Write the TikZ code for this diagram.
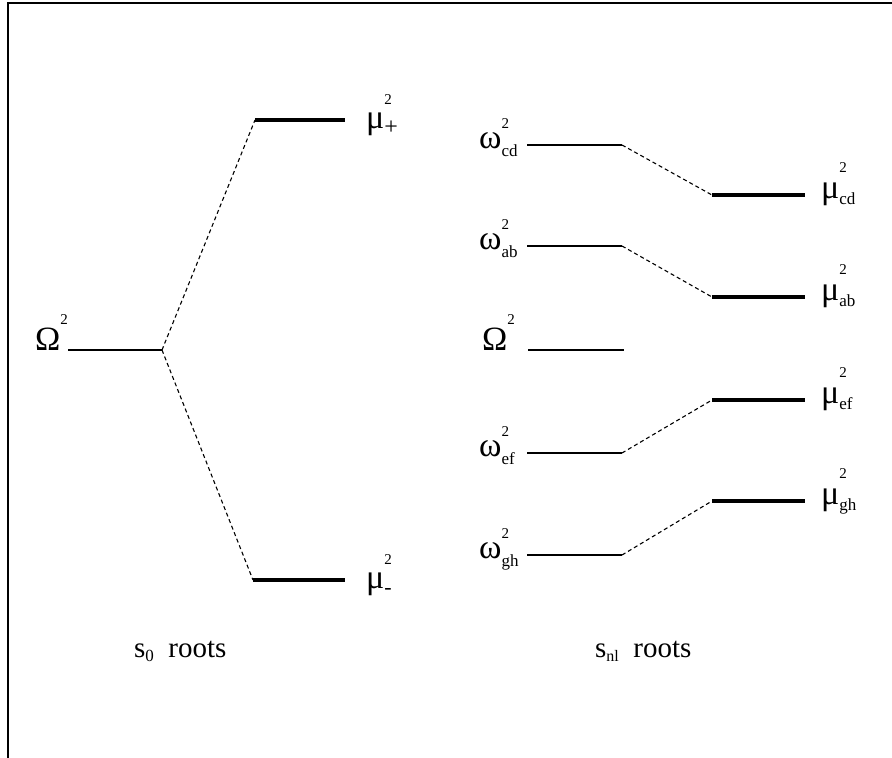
\documentclass[tikz,border=0pt]{standalone}
\usepackage{fontspec}
\setmainfont{Liberation Serif}
\usetikzlibrary{calc}
% level label: base symbol, stacked superscript and subscript
\newcommand\lvl[5][18pt]{#2\rlap{\raisebox{#1}{\fontsize{15}{15}\selectfont #3}}\raisebox{#5}{\fontsize{17}{17}\selectfont #4}}
\tikzset{
  thinlevel/.style={line width=1.4pt},
  thicklevel/.style={line width=4.5pt},
  link/.style={line width=1.1pt, dash pattern=on 4pt off 3pt},
  lab/.style={inner sep=0pt, anchor=base west, font=\fontsize{34}{36}\selectfont},
  caption/.style={inner sep=0pt, anchor=base west, font=\fontsize{29}{32}\selectfont},
  frameline/.style={line width=1.8pt}
}
\begin{document}
\begin{tikzpicture}[x=1pt,y=-1pt]
\useasboundingbox (0,0) rectangle (892,758);
% frame (top and left edges)
\coordinate (ftl) at (8,3);
\coordinate (ftr) at (892,3);
\coordinate (fbl) at (8,758);
\draw[frameline] (ftr) -- (ftl) -- (fbl);

% ---- s0 roots ----
\node[lab] (OmL) at (35,350) {\lvl[26pt]{Ω}{2}{}{0pt}};
\coordinate (oL1) at (68,350);
\coordinate (oL2) at (162,350);
\draw[thinlevel] (oL1) -- (oL2);
\coordinate (mp1) at (255,120);
\coordinate (mp2) at (345,120);
\coordinate (mm1) at (253,580);
\coordinate (mm2) at (345,580);
\draw[thicklevel] (mp1) -- (mp2);
\draw[thicklevel] (mm1) -- (mm2);
\draw[link] (oL2) -- (mp1);
\draw[link] (oL2) -- (mm1);
\node[lab] (muP) at (366,128) {\lvl[24pt]{μ}{2}{\fontsize{24}{24}\selectfont +}{-6pt}};
\node[lab] (muM) at (366,588) {\lvl[24pt]{μ}{2}{\fontsize{22}{22}\selectfont -}{-6pt}};
\node[caption] (s0) at (134,657) {s\raisebox{-4pt}{\fontsize{17}{17}\selectfont 0}\ \ roots};

% ---- snl roots ----
\foreach \n/\y/\ym in {cd/145/195, ab/246/297, ef/453/400, gh/555/501}{
  \coordinate (w\n1) at (527,\y);
  \coordinate (w\n2) at (622,\y);
  \coordinate (u\n1) at (712,\ym);
  \coordinate (u\n2) at (805,\ym);
  \draw[thinlevel] (w\n1) -- (w\n2);
  \draw[thicklevel] (u\n1) -- (u\n2);
  \draw[link] (w\n2) -- (u\n1);
  \node[lab] (wl\n) at (479,\y+3) {\lvl[20pt]{ω}{2}{\n}{-8pt}};
  \node[lab] (ul\n) at (821,\ym+3) {\lvl[26pt]{μ}{2}{\n}{-6pt}};
}
\node[lab] (OmC) at (482,350) {\lvl[26pt]{Ω}{2}{}{0pt}};
\coordinate (oC1) at (528,350);
\coordinate (oC2) at (624,350);
\draw[thinlevel] (oC1) -- (oC2);
\node[caption] (snl) at (595,657) {s\raisebox{-4pt}{\fontsize{16}{16}\selectfont nl}\ \ roots};
\end{tikzpicture}
\end{document}
